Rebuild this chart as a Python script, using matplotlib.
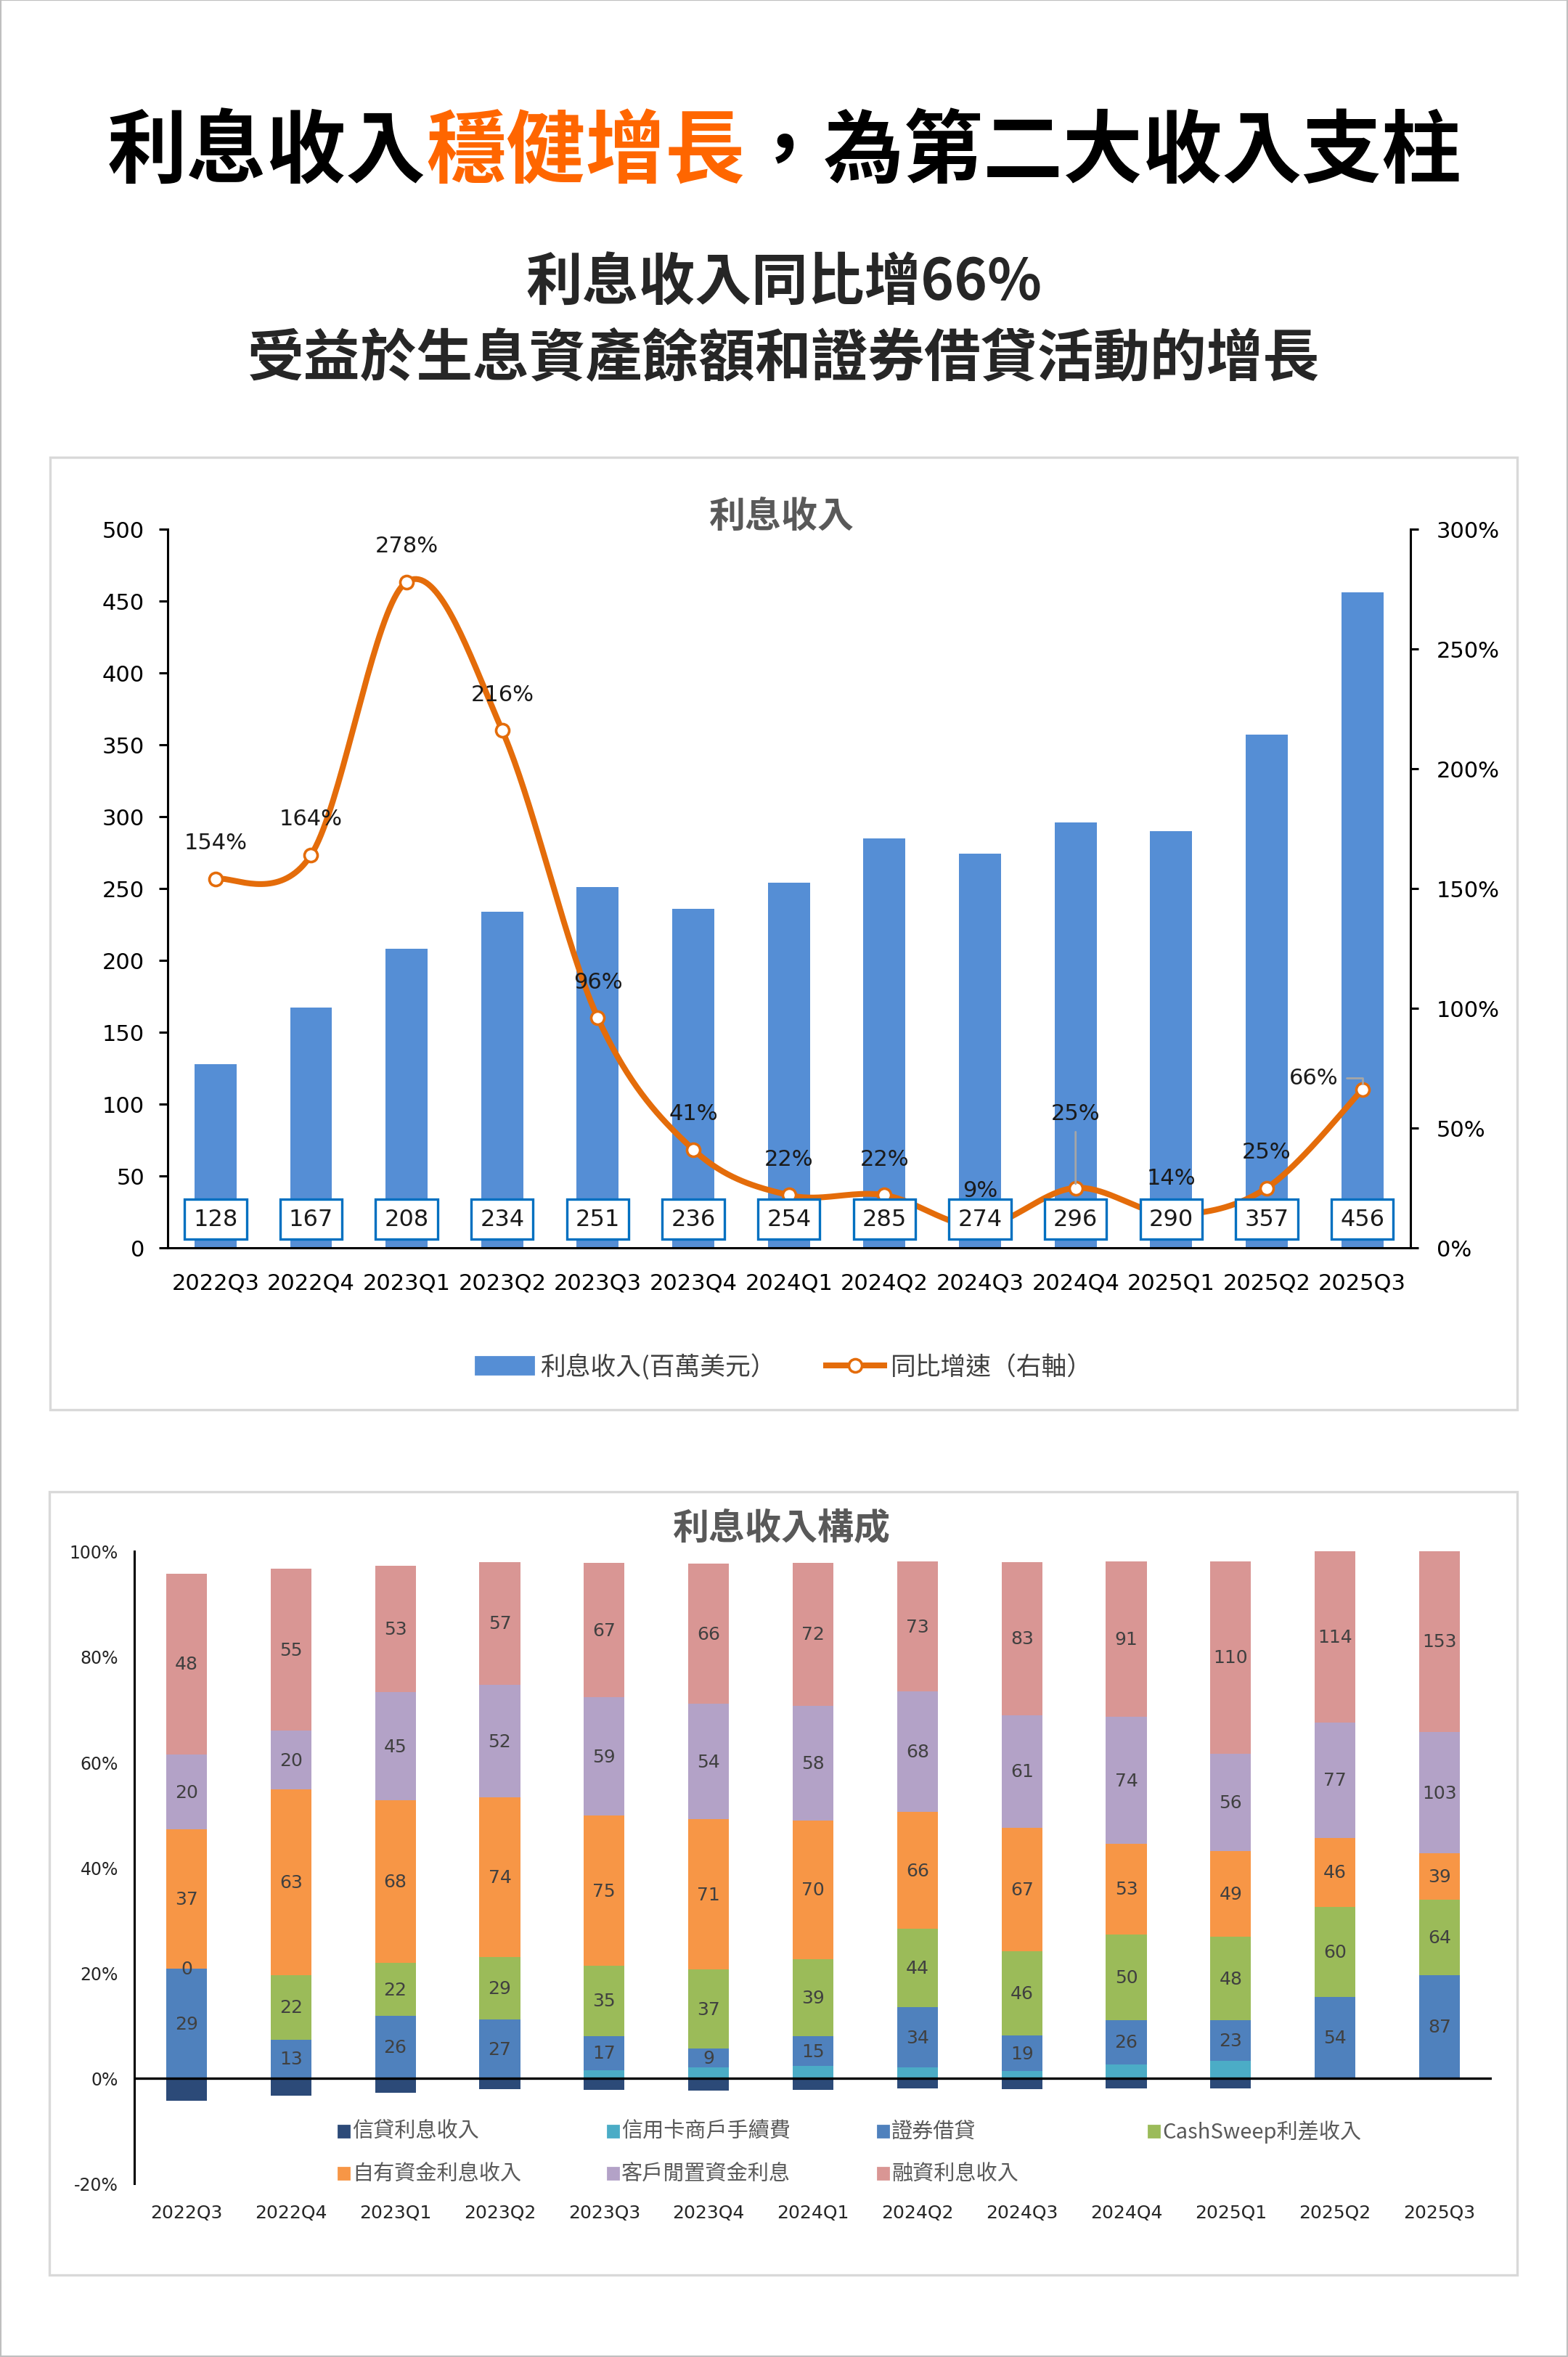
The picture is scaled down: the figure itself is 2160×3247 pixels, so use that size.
import numpy as np
import matplotlib
matplotlib.use('Agg')
import matplotlib.pyplot as plt
from matplotlib.patches import Rectangle, Patch
from matplotlib.lines import Line2D

# ---- data ----
quarters = ['2022Q3', '2022Q4', '2023Q1', '2023Q2', '2023Q3', '2023Q4', '2024Q1',
            '2024Q2', '2024Q3', '2024Q4', '2025Q1', '2025Q2', '2025Q3']
income = [128, 167, 208, 234, 251, 236, 254, 285, 274, 296, 290, 357, 456]   # 百萬美元
yoy = [154, 164, 278, 216, 96, 41, 22, 22, 9, 25, 14, 25, 66]               # %

# 利息收入構成 (百萬美元)
credit_interest = [-6, -6, -6, -5, -6, -6, -6, -6, -6, -6, -6, 0, 0]
card_fees = [0, 0, 0, 0, 4, 5, 6, 6, 4, 8, 10, 0, 0]
sec_lending = [29, 13, 26, 27, 17, 9, 15, 34, 19, 26, 23, 54, 87]
cash_sweep = [0, 22, 22, 29, 35, 37, 39, 44, 46, 50, 48, 60, 64]
own_funds = [37, 63, 68, 74, 75, 71, 70, 66, 67, 53, 49, 46, 39]
idle_cash = [20, 20, 45, 52, 59, 54, 58, 68, 61, 74, 56, 77, 103]
margin = [48, 55, 53, 57, 67, 66, 72, 73, 83, 91, 110, 114, 153]

series_names = ['信貸利息收入', '信用卡商戶手續費', '證券借貸', 'CashSweep利差收入',
                '自有資金利息收入', '客戶閒置資金利息', '融資利息收入']
series_colors = ['#2C4A78', '#4BACC6', '#4F81BD', '#9BBB59', '#F79646', '#B3A2C7', '#D99694']

CJK = ['Noto Sans CJK TC', 'DejaVu Sans']
W, H = 2160, 3248


def fx(px):
    return px / W


def fy(py):
    return 1 - py / H


def smooth_curve(xs, ys, sx, sy, n=40):
    # Excel-like smoothed line (Catmull-Rom Bezier in screen units)
    P = np.column_stack([np.asarray(xs, float) * sx, np.asarray(ys, float) * sy])
    out = []
    for i in range(len(P) - 1):
        p0 = P[i - 1] if i > 0 else P[i]
        p1, p2 = P[i], P[i + 1]
        p3 = P[i + 2] if i + 2 < len(P) else P[i + 1]
        c1 = p1 + (p2 - p0) / 6
        c2 = p2 - (p3 - p1) / 6
        t = np.linspace(0, 1, n)[:, None]
        seg = (1 - t) ** 3 * p1 + 3 * (1 - t) ** 2 * t * c1 + 3 * (1 - t) * t ** 2 * c2 + t ** 3 * p2
        out.append(seg if i == 0 else seg[1:])
    out = np.vstack(out)
    return out[:, 0] / sx, out[:, 1] / sy


fig = plt.figure(figsize=(W / 200, H / 200), dpi=200)
fig.patch.set_facecolor('white')
fig.add_artist(Rectangle((0, 0), 1, 1, transform=fig.transFigure, fill=False,
                         ec='#bfbfbf', lw=1.5))

# ---- headline ----
renderer = fig.canvas.get_renderer()
parts = [('利息收入', '#000000'), ('穩健增長', '#FF6600'), ('，為第二大收入支柱', '#000000')]
texts, widths = [], []
for s, c in parts:
    t = fig.text(0, fy(212), s, color=c, fontsize=39.5, fontweight='black',
                 family=CJK, va='center', ha='left')
    texts.append(t)
    widths.append(t.get_window_extent(renderer=renderer).width)
x = 1081 - sum(widths) / 2
for t, w in zip(texts, widths):
    t.set_x(fx(x))
    x += w

fig.text(0.5, fy(391), '利息收入同比增66%', fontsize=28, fontweight='bold',
         family=CJK, color='#262626', ha='center', va='center')
fig.text(0.5, fy(494), '受益於生息資產餘額和證券借貸活動的增長', fontsize=28,
         fontweight='bold', family=CJK, color='#262626', ha='center', va='center')

# panel frames
for (x0, y0, x1, y1) in [(69, 631, 2090, 1943), (68, 2056, 2090, 3135)]:
    fig.add_artist(Rectangle((fx(x0), fy(y1)), fx(x1 - x0), (y1 - y0) / H,
                             transform=fig.transFigure, fill=False, ec='#d9d9d9', lw=1.2))

# ---- chart 1: interest income + yoy ----
ax = fig.add_axes([fx(231), fy(1720), fx(1942.5 - 231), 990 / H])
xi = np.arange(len(quarters))
ax.bar(xi, income, width=0.44, color='#558ED5', zorder=2)
ax.set_xlim(-0.5, len(quarters) - 0.5)
ax.set_ylim(0, 500)
ax.set_yticks(np.arange(0, 501, 50))
ax.set_xticks(xi)
ax.set_xticklabels(quarters)
for sp in ['top', 'right']:
    ax.spines[sp].set_visible(False)
for sp in ['left', 'bottom']:
    ax.spines[sp].set_linewidth(1.1)
ax.tick_params(axis='y', direction='out', length=4.5, width=1.1, labelsize=11, pad=7)
ax.tick_params(axis='x', length=0, labelsize=11, pad=12)

ax2 = ax.twinx()
ax2.set_ylim(0, 300)
ax2.set_yticks(np.arange(0, 301, 50))
ax2.set_yticklabels([f'{v}%' for v in range(0, 301, 50)])
for sp in ['top', 'left', 'bottom']:
    ax2.spines[sp].set_visible(False)
ax2.spines['right'].set_linewidth(1.1)
ax2.tick_params(axis='y', direction='out', length=4, width=1.1, labelsize=11, pad=9)

orange = '#E46C0A'
cx, cy = smooth_curve(xi, yoy, 131.7, 3.3)
ax2.plot(cx, cy, color=orange, lw=2.9, solid_capstyle='round', zorder=3)
ax2.plot(xi, yoy, 'o', ms=6.5, mfc='white', mec=orange, mew=1.3, zorder=4)

for i, v in enumerate(yoy):
    if i == 9:
        ax2.annotate(f'{v}%', (i, v), xytext=(0, 37), textcoords='offset points',
                     ha='center', va='center', fontsize=11, color='#1a1a1a', zorder=6,
                     arrowprops=dict(arrowstyle='-', color='#a6a6a6', lw=1,
                                     shrinkA=2, shrinkB=2))
    elif i == len(yoy) - 1:
        ax2.annotate(f'{v}%', (i, v), xytext=(-24, 6), textcoords='offset points',
                     ha='center', va='center', fontsize=11, color='#1a1a1a', zorder=6,
                     arrowprops=dict(arrowstyle='-', color='#a6a6a6', lw=1,
                                     connectionstyle='angle,angleA=0,angleB=90,rad=0',
                                     shrinkA=2, shrinkB=3))
    else:
        ax2.annotate(f'{v}%', (i, v), xytext=(0, 18), textcoords='offset points',
                     ha='center', va='center', fontsize=11, color='#1a1a1a', zorder=6)

for i, v in enumerate(income):
    ax2.text(i, 20, str(v), transform=ax.transData, ha='center', va='center',
             fontsize=11.5, color='#1a1a1a', zorder=7,
             bbox=dict(boxstyle='square,pad=0.38', fc='white', ec='#0070C0', lw=1.2))

fig.text(fx(1077), fy(712), '利息收入', fontsize=18, fontweight='bold', family=CJK,
         color='#595959', ha='center', va='center')

handles = [Patch(color='#558ED5'),
           Line2D([0], [0], color=orange, lw=2.9, marker='o', ms=6.5, mfc='white',
                  mec=orange, mew=1.3)]
leg = ax2.legend(handles, ['利息收入(百萬美元）', '同比增速（右軸）'], loc='center',
                 bbox_to_anchor=(fx(1080), fy(1884)), bbox_transform=fig.transFigure,
                 ncol=2, frameon=False, handlelength=2.3, handleheight=0.65,
                 handletextpad=0.25, columnspacing=2.0,
                 prop={'family': CJK, 'size': 12.5})
for t in leg.get_texts():
    t.set_color('#404040')

# ---- chart 2: composition ----
bx = fig.add_axes([fx(185), fy(3009), fx(2055 - 185), 871.3 / H])
comp = np.array([credit_interest, card_fees, sec_lending, cash_sweep,
                 own_funds, idle_cash, margin], dtype=float)
total_abs = np.abs(comp).sum(axis=0)
share = comp / total_abs
pos_bottom = np.zeros(len(quarters))
bw = 0.39
for k in range(comp.shape[0]):
    vals = share[k]
    if k == 0:
        bx.bar(xi, vals, width=bw, color=series_colors[k], zorder=2)
        continue
    bx.bar(xi, vals, width=bw, bottom=pos_bottom, color=series_colors[k], zorder=2)
    if k >= 2:
        for i in range(len(quarters)):
            bx.text(i, pos_bottom[i] + vals[i] / 2, f'{comp[k, i]:.0f}', ha='center',
                    va='center', fontsize=9, color='#404040', zorder=4)
    pos_bottom = pos_bottom + vals

bx.axhline(0, color='black', lw=1.2, zorder=3)
bx.set_xlim(-0.5, len(quarters) - 0.5)
bx.set_ylim(-0.2, 1.0)
bx.set_yticks(np.arange(-0.2, 1.01, 0.2))
bx.set_yticklabels([f'{v}%' for v in range(-20, 101, 20)])
bx.set_xticks(xi)
bx.set_xticklabels(quarters)
for sp in ['top', 'right', 'bottom']:
    bx.spines[sp].set_visible(False)
bx.spines['left'].set_linewidth(1.1)
bx.tick_params(axis='y', length=0, labelsize=8.5, pad=8, labelcolor='#262626')
bx.tick_params(axis='x', length=0, labelsize=9, pad=10, labelcolor='#262626')

fig.text(fx(1077), fy(2106), '利息收入構成', fontsize=18, fontweight='bold', family=CJK,
         color='#595959', ha='center', va='center')

# legend laid out like the source (4 columns, 2 rows)
leg_cols = [466, 837, 1209, 1582]
leg_rows = [2937, 2995]
for k, name in enumerate(series_names):
    lx = leg_cols[k % 4]
    ly = leg_rows[k // 4]
    fig.add_artist(Rectangle((fx(lx), fy(ly + 8)), fx(15), 16 / H,
                             transform=fig.transFigure, color=series_colors[k]))
    fig.text(fx(lx + 19), fy(ly), name, fontsize=10.5, family=CJK, color='#595959',
             ha='left', va='center')

fig.savefig('out.png', dpi=200, facecolor='white')
